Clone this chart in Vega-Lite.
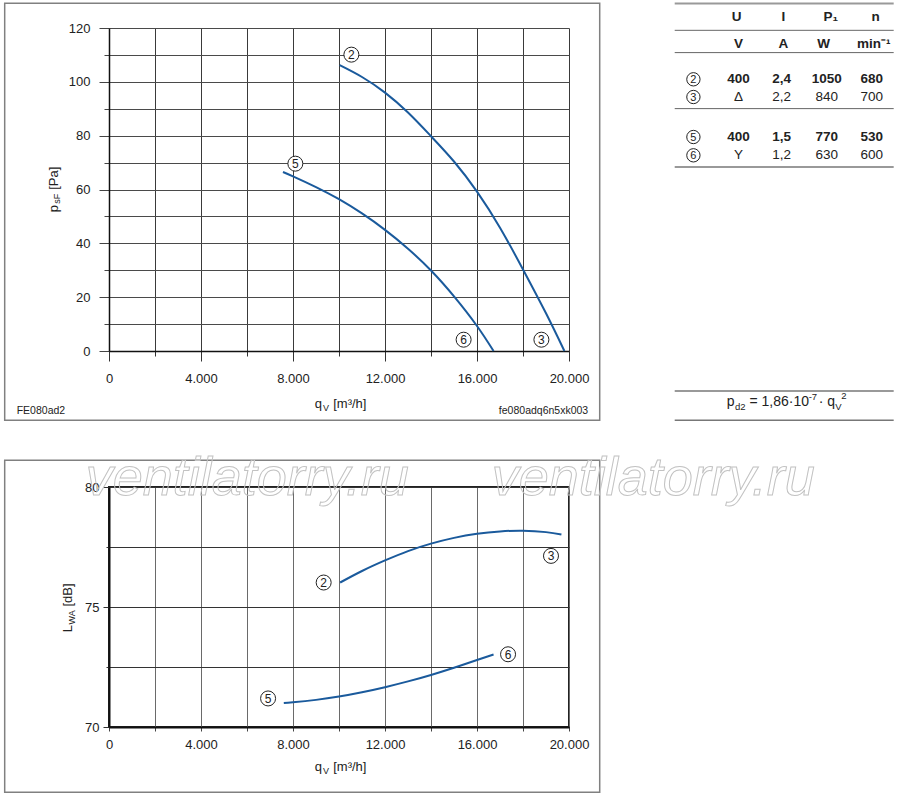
{
  "$schema": "https://vega.github.io/schema/vega-lite/v6.json",
  "description": "FE080 fan curves: pressure and sound power vs air flow",
  "padding": {"left": 2, "top": 2, "right": 4, "bottom": 2},
  "background": "white",
  "config": {
    "font": "Liberation Sans",
    "view": {"stroke": null},
    "text": {"font": "Liberation Sans", "color": "#222"}
  },
  "datasets": {
    "topFrame": [{"q": -4535, "q2": 21335, "p": 129.18, "p2": -25.75}],
    "topCurves": [
      {"c": "2-3", "q": 10030, "p": 106.2},
      {"c": "2-3", "q": 11000, "p": 101.8},
      {"c": "2-3", "q": 12000, "p": 96.0},
      {"c": "2-3", "q": 13000, "p": 88.6},
      {"c": "2-3", "q": 14000, "p": 79.8},
      {"c": "2-3", "q": 15000, "p": 70.4},
      {"c": "2-3", "q": 16000, "p": 59.2},
      {"c": "2-3", "q": 17000, "p": 45.8},
      {"c": "2-3", "q": 18000, "p": 30.3},
      {"c": "2-3", "q": 19000, "p": 14.0},
      {"c": "2-3", "q": 19800, "p": 0},
      {"c": "5-6", "q": 7564, "p": 66.5},
      {"c": "5-6", "q": 8000, "p": 64.9},
      {"c": "5-6", "q": 9000, "p": 60.9},
      {"c": "5-6", "q": 10000, "p": 56.4},
      {"c": "5-6", "q": 11000, "p": 51.1},
      {"c": "5-6", "q": 12000, "p": 45.0},
      {"c": "5-6", "q": 13000, "p": 38.0},
      {"c": "5-6", "q": 14000, "p": 29.9},
      {"c": "5-6", "q": 15000, "p": 20.3},
      {"c": "5-6", "q": 16000, "p": 9.3},
      {"c": "5-6", "q": 16720, "p": 0}
    ],
    "topTags": [
      {"q": 10538, "p": 110.1, "n": "2"},
      {"q": 8102, "p": 69.6, "n": "5"},
      {"q": 15418, "p": 4.2, "n": "6"},
      {"q": 18800, "p": 4.2, "n": "3"}
    ],
    "topText": [
      {"q": -2230, "p": 51.53, "t": "p", "r": "yt"},
      {"q": -2230, "p": 59.89, "t": "[Pa]", "r": "yt"},
      {"q": -2126, "p": 54.69, "t": "sF", "r": "ys"},
      {"q": 8943, "p": -21.29, "t": "q", "r": "xt"},
      {"q": 9748, "p": -21.29, "t": "[m³/h]", "r": "xt"},
      {"q": 9304, "p": -22.4, "t": "V", "r": "xs"},
      {"q": -4013, "p": -23.52, "t": "FE080ad2", "r": "fl"},
      {"q": 20835, "p": -23.52, "t": "fe080adq6n5xk003", "r": "fr"},
      {"q": 27291, "p": 124.1, "t": "U", "r": "tb"},
      {"q": 29322, "p": 124.1, "t": "I", "r": "tb"},
      {"q": 31378, "p": 124.1, "t": "P₁", "r": "tb"},
      {"q": 33335, "p": 124.1, "t": "n", "r": "tb"},
      {"q": 27365, "p": 114.2, "t": "V", "r": "tb"},
      {"q": 29322, "p": 114.2, "t": "A", "r": "tb"},
      {"q": 31074, "p": 114.2, "t": "W", "r": "tb"},
      {"q": 33248, "p": 114.2, "t": "min⁻¹", "r": "tb"},
      {"q": 27365, "p": 100.94, "t": "400", "r": "tb"},
      {"q": 29248, "p": 100.94, "t": "2,4", "r": "tb"},
      {"q": 31204, "p": 100.94, "t": "1050", "r": "tb"},
      {"q": 33161, "p": 100.94, "t": "680", "r": "tb"},
      {"q": 27365, "p": 94.36, "t": "Δ", "r": "tn"},
      {"q": 29248, "p": 94.36, "t": "2,2", "r": "tn"},
      {"q": 31204, "p": 94.36, "t": "840", "r": "tn"},
      {"q": 33161, "p": 94.36, "t": "700", "r": "tn"},
      {"q": 27365, "p": 79.5, "t": "400", "r": "tb"},
      {"q": 29248, "p": 79.5, "t": "1,5", "r": "tb"},
      {"q": 31204, "p": 79.5, "t": "770", "r": "tb"},
      {"q": 33161, "p": 79.5, "t": "530", "r": "tb"},
      {"q": 27365, "p": 72.7, "t": "Y", "r": "tn"},
      {"q": 29248, "p": 72.7, "t": "1,2", "r": "tn"},
      {"q": 31204, "p": 72.7, "t": "630", "r": "tn"},
      {"q": 33161, "p": 72.7, "t": "600", "r": "tn"},
      {"q": 26857, "p": -20.55, "t": "p", "r": "f"},
      {"q": 27217, "p": -21.85, "t": "d2", "r": "fs"},
      {"q": 27848, "p": -20.55, "t": "= 1,86·10", "r": "f"},
      {"q": 30422, "p": -18.32, "t": "-7", "r": "fs"},
      {"q": 30857, "p": -20.55, "t": "· q", "r": "f"},
      {"q": 31574, "p": -21.85, "t": "V", "r": "fs"},
      {"q": 31835, "p": -17.94, "t": "2", "r": "fs"}
    ],
    "tableTags": [
      {"q": 25409, "p": 100.94, "n": "2"},
      {"q": 25409, "p": 94.36, "n": "3"},
      {"q": 25409, "p": 79.5, "n": "5"},
      {"q": 25409, "p": 72.7, "n": "6"}
    ],
    "tableLines": [
      {"q": 24596, "q2": 34117, "p": 129.1, "k": "thick"},
      {"q": 24596, "q2": 34117, "p": 119.14, "k": "thin"},
      {"q": 24596, "q2": 34117, "p": 110.86, "k": "thin"},
      {"q": 24596, "q2": 34117, "p": 90.05, "k": "thin"},
      {"q": 24596, "q2": 34117, "p": 68.36, "k": "thick"},
      {"q": 24596, "q2": 34117, "p": -14.86, "k": "mid"},
      {"q": 24596, "q2": 34117, "p": -25.75, "k": "mid"}
    ],
    "botFrame": [{"q": -4535, "q2": 21335, "v": 81.11, "v2": 67.28}],
    "botCurves": [
      {"c": "2-3", "q": 10050, "v": 76.02},
      {"c": "2-3", "q": 11000, "v": 76.5},
      {"c": "2-3", "q": 12000, "v": 76.94},
      {"c": "2-3", "q": 13000, "v": 77.33},
      {"c": "2-3", "q": 14000, "v": 77.64},
      {"c": "2-3", "q": 15000, "v": 77.88},
      {"c": "2-3", "q": 16000, "v": 78.05},
      {"c": "2-3", "q": 17000, "v": 78.15},
      {"c": "2-3", "q": 18000, "v": 78.18},
      {"c": "2-3", "q": 19000, "v": 78.12},
      {"c": "2-3", "q": 19670, "v": 78.02},
      {"c": "5-6", "q": 7600, "v": 71.0},
      {"c": "5-6", "q": 8000, "v": 71.03},
      {"c": "5-6", "q": 9000, "v": 71.13},
      {"c": "5-6", "q": 10000, "v": 71.27},
      {"c": "5-6", "q": 11000, "v": 71.45},
      {"c": "5-6", "q": 12000, "v": 71.66},
      {"c": "5-6", "q": 13000, "v": 71.9},
      {"c": "5-6", "q": 14000, "v": 72.17},
      {"c": "5-6", "q": 15000, "v": 72.47},
      {"c": "5-6", "q": 16000, "v": 72.79},
      {"c": "5-6", "q": 16720, "v": 73.02}
    ],
    "botTags": [
      {"q": 9333, "v": 76.02, "n": "2"},
      {"q": 19217, "v": 77.13, "n": "3"},
      {"q": 6917, "v": 71.19, "n": "5"},
      {"q": 17350, "v": 73.03, "n": "6"}
    ],
    "botText": [
      {"q": -1622, "v": 73.946, "t": "L", "r": "yt"},
      {"q": -1622, "v": 75.02, "t": "[dB]", "r": "yt"},
      {"q": -1491, "v": 74.27, "t": "WA", "r": "ys"},
      {"q": 8943, "v": 68.15, "t": "q", "r": "xt"},
      {"q": 9748, "v": 68.15, "t": "[m³/h]", "r": "xt"},
      {"q": 9304, "v": 68.03, "t": "V", "r": "xs"},
      {"q": -1013, "v": 79.65, "t": "ventilatorry.ru", "r": "wm"},
      {"q": 16639, "v": 79.65, "t": "ventilatorry.ru", "r": "wm"}
    ]
  },
  "bounds": "flush",
  "spacing": 136,
  "vconcat": [
    {
      "width": 460,
      "height": 323,
      "encoding": {
        "x": {
          "field": "q", "type": "quantitative",
          "scale": {"domain": [0, 20000], "nice": false, "zero": false},
          "axis": {
            "title": null,
            "values": [0, 2000, 4000, 6000, 8000, 10000, 12000, 14000, 16000, 18000, 20000],
            "labelExpr": "datum.value % 4000 === 0 ? replace(format(datum.value, ','), ',', '.') : ''",
            "grid": true, "gridColor": "#3a3a3a", "gridWidth": 1,
            "domainColor": "#111", "domainWidth": 1.5,
            "tickColor": "#333",
            "tickSize": {"condition": {"test": "datum.value % 4000 === 0", "value": 10}, "value": 5},
            "labelPadding": 11, "labelFontSize": 13, "labelColor": "#222",
            "labelFlush": false, "labelOverlap": false
          }
        },
        "y": {
          "field": "p", "type": "quantitative",
          "scale": {"domain": [0, 120], "nice": false},
          "axis": {
            "title": null,
            "values": [0, 10, 20, 30, 40, 50, 60, 70, 80, 90, 100, 110, 120],
            "labelExpr": "datum.value % 20 === 0 ? datum.label : ''",
            "grid": true, "gridColor": "#4a4a4a", "gridWidth": 1,
            "domainColor": "#111", "domainWidth": 1.5,
            "tickColor": "#444",
            "tickSize": {"condition": {"test": "datum.value % 20 === 0", "value": 10}, "value": 5},
            "labelPadding": 9, "labelFontSize": 13, "labelColor": "#222",
            "labelOverlap": false
          }
        }
      },
      "layer": [
        {
          "data": {"name": "topFrame"},
          "mark": {"type": "rect", "fill": "white", "fillOpacity": 0, "stroke": "#808080", "strokeWidth": 1.5},
          "encoding": {"x2": {"field": "q2"}, "y2": {"field": "p2"}}
        },
        {
          "data": {"name": "topCurves"},
          "mark": {"type": "line", "color": "#1a5a9c", "strokeWidth": 2, "interpolate": "natural"},
          "encoding": {"detail": {"field": "c"}}
        },
        {
          "data": {"name": "topTags"},
          "mark": {"type": "point", "shape": "circle", "size": 225, "filled": true, "fill": "white", "stroke": "#222", "strokeWidth": 1, "opacity": 1}
        },
        {
          "data": {"name": "topTags"},
          "mark": {"type": "text", "fontSize": 12, "baseline": "middle", "dy": 0.5},
          "encoding": {"text": {"field": "n"}}
        },
        {
          "data": {"name": "tableTags"},
          "mark": {"type": "point", "shape": "circle", "size": 178, "filled": true, "fill": "white", "stroke": "#222", "strokeWidth": 1, "opacity": 1}
        },
        {
          "data": {"name": "tableTags"},
          "mark": {"type": "text", "fontSize": 11, "baseline": "middle", "dy": 0.5},
          "encoding": {"text": {"field": "n"}}
        },
        {
          "data": {"name": "tableLines"},
          "transform": [{"filter": "datum.k === 'thick'"}],
          "mark": {"type": "rule", "color": "#999", "strokeWidth": 2},
          "encoding": {"x2": {"field": "q2"}}
        },
        {
          "data": {"name": "tableLines"},
          "transform": [{"filter": "datum.k === 'thin'"}],
          "mark": {"type": "rule", "color": "#666", "strokeWidth": 1},
          "encoding": {"x2": {"field": "q2"}}
        },
        {
          "data": {"name": "tableLines"},
          "transform": [{"filter": "datum.k === 'mid'"}],
          "mark": {"type": "rule", "color": "#777", "strokeWidth": 1.5},
          "encoding": {"x2": {"field": "q2"}}
        },
        {
          "data": {"name": "topText"},
          "transform": [{"filter": "datum.r === 'yt'"}],
          "mark": {"type": "text", "angle": 270, "align": "left", "baseline": "alphabetic", "fontSize": 13},
          "encoding": {"text": {"field": "t"}}
        },
        {
          "data": {"name": "topText"},
          "transform": [{"filter": "datum.r === 'ys'"}],
          "mark": {"type": "text", "angle": 270, "align": "left", "baseline": "alphabetic", "fontSize": 9},
          "encoding": {"text": {"field": "t"}}
        },
        {
          "data": {"name": "topText"},
          "transform": [{"filter": "datum.r === 'xt'"}],
          "mark": {"type": "text", "align": "left", "baseline": "alphabetic", "fontSize": 13},
          "encoding": {"text": {"field": "t"}}
        },
        {
          "data": {"name": "topText"},
          "transform": [{"filter": "datum.r === 'xs'"}],
          "mark": {"type": "text", "align": "left", "baseline": "alphabetic", "fontSize": 9},
          "encoding": {"text": {"field": "t"}}
        },
        {
          "data": {"name": "topText"},
          "transform": [{"filter": "datum.r === 'fl'"}],
          "mark": {"type": "text", "align": "left", "baseline": "alphabetic", "fontSize": 10.5},
          "encoding": {"text": {"field": "t"}}
        },
        {
          "data": {"name": "topText"},
          "transform": [{"filter": "datum.r === 'fr'"}],
          "mark": {"type": "text", "align": "right", "baseline": "alphabetic", "fontSize": 10.5},
          "encoding": {"text": {"field": "t"}}
        },
        {
          "data": {"name": "topText"},
          "transform": [{"filter": "datum.r === 'tb'"}],
          "mark": {"type": "text", "align": "center", "baseline": "middle", "fontSize": 13.5, "fontWeight": "bold"},
          "encoding": {"text": {"field": "t"}}
        },
        {
          "data": {"name": "topText"},
          "transform": [{"filter": "datum.r === 'tn'"}],
          "mark": {"type": "text", "align": "center", "baseline": "middle", "fontSize": 13.5},
          "encoding": {"text": {"field": "t"}}
        },
        {
          "data": {"name": "topText"},
          "transform": [{"filter": "datum.r === 'f'"}],
          "mark": {"type": "text", "align": "left", "baseline": "alphabetic", "fontSize": 14},
          "encoding": {"text": {"field": "t"}}
        },
        {
          "data": {"name": "topText"},
          "transform": [{"filter": "datum.r === 'fs'"}],
          "mark": {"type": "text", "align": "left", "baseline": "alphabetic", "fontSize": 9.5},
          "encoding": {"text": {"field": "t"}}
        }
      ]
    },
    {
      "width": 460,
      "height": 240,
      "view": {"stroke": "#222", "strokeWidth": 2},
      "encoding": {
        "x": {
          "field": "q", "type": "quantitative",
          "scale": {"domain": [0, 20000], "nice": false, "zero": false},
          "axis": {
            "title": null,
            "values": [0, 2000, 4000, 6000, 8000, 10000, 12000, 14000, 16000, 18000, 20000],
            "labelExpr": "datum.value % 4000 === 0 ? replace(format(datum.value, ','), ',', '.') : ''",
            "grid": true, "gridColor": "#6a6a6a", "gridWidth": 1,
            "domainColor": "#111", "domainWidth": 2,
            "tickColor": "#444", "tickSize": 4,
            "labelPadding": 7, "labelFontSize": 13, "labelColor": "#222",
            "labelFlush": false, "labelOverlap": false
          }
        },
        "y": {
          "field": "v", "type": "quantitative",
          "scale": {"domain": [70, 80], "nice": false, "zero": false},
          "axis": {
            "title": null,
            "values": [70, 72.5, 75, 77.5, 80],
            "labelExpr": "datum.value % 5 === 0 ? datum.label : ''",
            "grid": true, "gridColor": "#333", "gridWidth": 1,
            "domainColor": "#111", "domainWidth": 2,
            "tickColor": "#333",
            "tickSize": {"condition": {"test": "datum.value % 5 === 0", "value": 6}, "value": 3},
            "labelPadding": 4, "labelFontSize": 13, "labelColor": "#222",
            "labelOverlap": false
          }
        }
      },
      "layer": [
        {
          "data": {"name": "botFrame"},
          "mark": {"type": "rect", "fill": "white", "fillOpacity": 0, "stroke": "#808080", "strokeWidth": 1.5},
          "encoding": {"x2": {"field": "q2"}, "y2": {"field": "v2"}}
        },
        {
          "data": {"name": "botCurves"},
          "mark": {"type": "line", "color": "#1a5a9c", "strokeWidth": 2, "interpolate": "natural"},
          "encoding": {"detail": {"field": "c"}}
        },
        {
          "data": {"name": "botTags"},
          "mark": {"type": "point", "shape": "circle", "size": 225, "filled": true, "fill": "white", "stroke": "#222", "strokeWidth": 1, "opacity": 1}
        },
        {
          "data": {"name": "botTags"},
          "mark": {"type": "text", "fontSize": 12, "baseline": "middle", "dy": 0.5},
          "encoding": {"text": {"field": "n"}}
        },
        {
          "data": {"name": "botText"},
          "transform": [{"filter": "datum.r === 'wm'"}],
          "mark": {"type": "text", "align": "left", "baseline": "alphabetic", "fontSize": 54, "fontStyle": "italic", "fill": "white", "fillOpacity": 0, "stroke": "#c2c2c2", "strokeWidth": 1},
          "encoding": {"text": {"field": "t"}}
        },
        {
          "data": {"name": "botText"},
          "transform": [{"filter": "datum.r === 'yt'"}],
          "mark": {"type": "text", "angle": 270, "align": "left", "baseline": "alphabetic", "fontSize": 13},
          "encoding": {"text": {"field": "t"}}
        },
        {
          "data": {"name": "botText"},
          "transform": [{"filter": "datum.r === 'ys'"}],
          "mark": {"type": "text", "angle": 270, "align": "left", "baseline": "alphabetic", "fontSize": 9},
          "encoding": {"text": {"field": "t"}}
        },
        {
          "data": {"name": "botText"},
          "transform": [{"filter": "datum.r === 'xt'"}],
          "mark": {"type": "text", "align": "left", "baseline": "alphabetic", "fontSize": 13},
          "encoding": {"text": {"field": "t"}}
        },
        {
          "data": {"name": "botText"},
          "transform": [{"filter": "datum.r === 'xs'"}],
          "mark": {"type": "text", "align": "left", "baseline": "alphabetic", "fontSize": 9},
          "encoding": {"text": {"field": "t"}}
        }
      ]
    }
  ]
}
